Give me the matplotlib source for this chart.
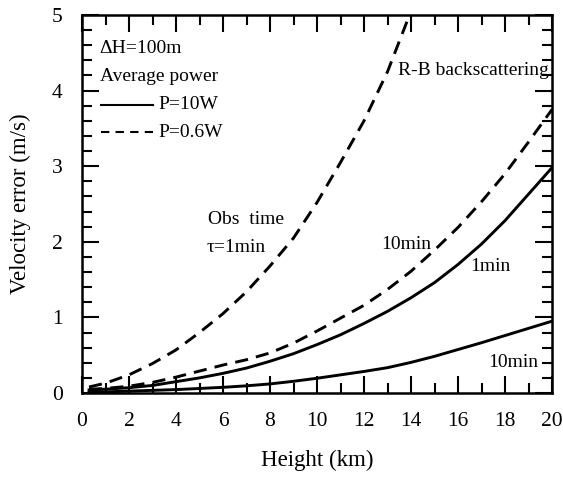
import matplotlib
matplotlib.use("Agg")
import matplotlib.pyplot as plt
from matplotlib.ticker import MultipleLocator

plt.rcParams['font.family'] = ['Liberation Serif', 'DejaVu Serif']

# Data (height in km, velocity error in m/s)
h_06_1min = [0.3, 1, 2, 3, 4, 5, 6, 7, 8, 9, 10, 11, 12, 13, 13.9]
v_06_1min = [0.08, 0.13, 0.24, 0.39, 0.57, 0.8, 1.05, 1.34, 1.68, 2.05, 2.52, 3.05, 3.6, 4.25, 4.97]

heights = [0.3, 1, 2, 3, 4, 5, 6, 7, 8, 9, 10, 11, 12, 13, 14, 15, 16, 17, 18, 19, 20]
v_06_10min = [0.05, 0.06, 0.09, 0.14, 0.21, 0.29, 0.37, 0.44, 0.53, 0.66, 0.82, 0.99, 1.16, 1.37,
              1.61, 1.89, 2.19, 2.53, 2.9, 3.32, 3.75]
v_10_1min = [0.04, 0.05, 0.07, 0.1, 0.15, 0.2, 0.26, 0.33, 0.42, 0.52, 0.64, 0.77, 0.92, 1.08,
             1.26, 1.46, 1.7, 1.97, 2.28, 2.63, 2.98]
v_10_10min = [0.01, 0.015, 0.025, 0.035, 0.045, 0.06, 0.075, 0.095, 0.12, 0.155, 0.195, 0.24, 0.285,
              0.335, 0.405, 0.485, 0.575, 0.665, 0.76, 0.855, 0.95]

W, H = 563, 479
fig = plt.figure(figsize=(W / 100, H / 100), dpi=100)
ax = fig.add_axes([82 / W, 1 - 393 / H, (552 - 82) / W, (393 - 15) / H])

lw = 2.1
dash = (4.5, 2.8)
ax.plot(h_06_1min, v_06_1min, color='black', lw=lw, dashes=dash)
ax.plot(heights, v_06_10min, color='black', lw=lw, dashes=dash)
ax.plot(heights, v_10_1min, color='black', lw=lw)
ax.plot(heights, v_10_10min, color='black', lw=lw)

ax.set_xlim(0, 20)
ax.set_ylim(0, 5)
ax.xaxis.set_major_locator(MultipleLocator(2))
ax.xaxis.set_minor_locator(MultipleLocator(1))
ax.yaxis.set_major_locator(MultipleLocator(1))
ax.yaxis.set_minor_locator(MultipleLocator(0.2))
ax.tick_params(which='both', direction='in', top=True, right=True, width=1.5, labelsize=15.5)
ax.tick_params(axis='x', which='major', length=12.5, pad=14)
ax.tick_params(axis='y', which='major', length=12.5, pad=14)
ax.tick_params(which='minor', length=7.5)
for s in ax.spines.values():
    s.set_linewidth(1.8)

ax.set_xlabel('Height (km)', fontsize=16.5)
ax.set_ylabel('Velocity error (m/s)', fontsize=16.5)
ax.xaxis.set_label_coords(0.5, -0.15)
ax.yaxis.set_label_coords(-0.108, 0.5)

fs = 14
ax.text(0.75, 4.56, 'ΔH=100m', fontsize=fs, va='center', ha='left')
ax.text(0.75, 4.18, 'Average power', fontsize=fs, va='center', ha='left')
ax.plot([0.8, 3.0], [3.81, 3.81], color='black', lw=1.5)
ax.text(3.25, 3.81, 'P=10W', fontsize=fs, va='center', ha='left')
ax.plot([0.8, 3.0], [3.45, 3.45], color='black', lw=1.5, dashes=(4, 3))
ax.text(3.25, 3.45, 'P=0.6W', fontsize=fs, va='center', ha='left')

ax.text(5.35, 2.29, 'Obs  time', fontsize=fs, va='center', ha='left')
ax.text(5.3, 1.93, 'τ=1min', fontsize=fs, va='center', ha='left')
ax.text(19.85, 4.27, 'R-B backscattering', fontsize=fs, va='center', ha='right')
ax.text(12.75, 1.96, '10min', fontsize=fs, va='center', ha='left')
ax.text(16.5, 1.67, '1min', fontsize=fs, va='center', ha='left')
ax.text(17.3, 0.41, '10min', fontsize=fs, va='center', ha='left')

fig.savefig('out.png', dpi=100)
